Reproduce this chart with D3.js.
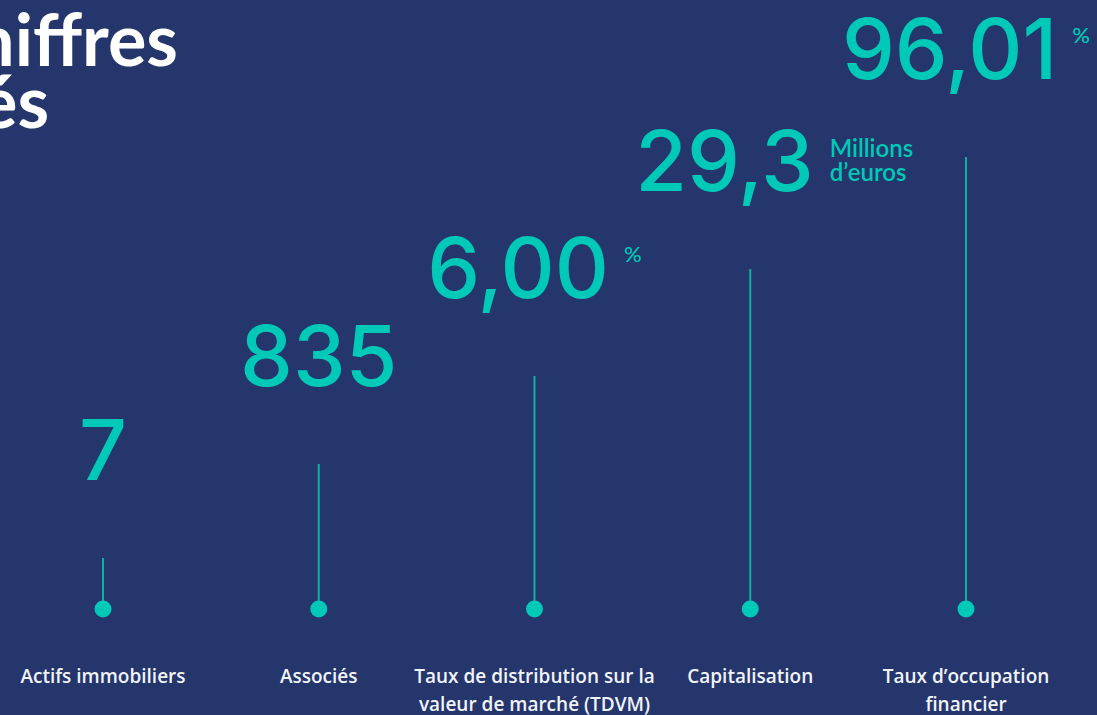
<!DOCTYPE html>
<html>
<head>
<meta charset="utf-8">
<script src="https://cdn.jsdelivr.net/npm/d3@7"></script>
<style>
  html, body { margin: 0; padding: 0; background: #24366c; overflow: hidden; }
</style>
</head>
<body>
<div id="chart"></div>
<script>
// Chart data
var categories = ["Actifs immobiliers", "Associés", "Taux de distribution sur la valeur de marché (TDVM)", "Capitalisation", "Taux d’occupation financier"];
var labelLines = [["Actifs immobiliers"], ["Associés"], ["Taux de distribution sur la", "valeur de marché (TDVM)"], ["Capitalisation"], ["Taux d’occupation", "financier"]];
var valueLabels = ["7", "835", "6,00", "29,3", "96,01"];
var unitLines = [[], [], ["%"], ["Millions", "d’euros"], ["%"]];
// relative height of each stem
var stemLevels = [0.51, 1.45, 2.33, 3.40, 4.52];

var svgWidth = 1097;
var svgHeight = 715;

var teal = "#00c9b7";
var stemColor = "#14ada2";

var svg = d3.select("#chart")
    .append("svg")
    .attr("width", svgWidth)
    .attr("height", svgHeight);

svg.append("rect")
    .attr("width", svgWidth)
    .attr("height", svgHeight)
    .attr("fill", "#24366c");

// Scales
var xScale = d3.scalePoint()
    .domain(categories)
    .range([103, 966]);

var yScale = d3.scaleLinear()
    .domain([0, 5])
    .range([609, 109]);

// Title (cropped on the left like the original)
var title1 = svg.append("text")
    .attr("x", 178)
    .attr("y", 66)
    .attr("text-anchor", "end")
    .attr("font-family", "Lato")
    .attr("font-weight", "bold")
    .attr("font-size", "72px")
    .attr("fill", "white")
    .text("Chiffres");

var titleStart = title1.node().getBBox().x;

svg.append("text")
    .attr("x", titleStart)
    .attr("y", 128)
    .attr("font-family", "Lato")
    .attr("font-weight", "bold")
    .attr("font-size", "72px")
    .attr("fill", "white")
    .text("clés");

// Stems
svg.selectAll(".stem")
    .data(categories)
    .enter()
    .append("line")
    .attr("class", "stem")
    .attr("x1", d => xScale(d))
    .attr("x2", d => xScale(d))
    .attr("y1", yScale(0))
    .attr("y2", (d, i) => yScale(stemLevels[i]))
    .attr("stroke", stemColor)
    .attr("stroke-width", 2);

// Dots
svg.selectAll(".dot")
    .data(categories)
    .enter()
    .append("circle")
    .attr("class", "dot")
    .attr("cx", d => xScale(d))
    .attr("cy", yScale(0))
    .attr("r", 8.5)
    .attr("fill", teal);

// Values + units, centred as a group above each stem
categories.forEach(function(cat, i) {
    var g = svg.append("g");
    var top = yScale(stemLevels[i]);

    var num = g.append("text")
        .attr("x", 0)
        .attr("y", 0)
        .attr("font-family", "Inter")
        .attr("font-weight", 500)
        .attr("font-size", "84px")
        .attr("fill", teal)
        .text(valueLabels[i]);

    var numBox = num.node().getBBox();
    var multi = unitLines[i].length > 1;

    unitLines[i].forEach(function(line, j) {
        g.append("text")
            .attr("x", numBox.width + (multi ? 16 : 15))
            .attr("y", (multi ? -34 : -36) + j * 24)
            .attr("font-family", "Lato")
            .attr("font-weight", multi ? 600 : 500)
            .attr("font-size", multi ? "24px" : "22px")
            .attr("fill", teal)
            .text(line);
    });

    var box = g.node().getBBox();
    var shift = multi ? 24 : 0;
    g.attr("transform", `translate(${xScale(cat) - box.width / 2 - box.x + shift}, ${top - 78})`);
});

// Category labels
categories.forEach(function(cat, i) {
    labelLines[i].forEach(function(line, j) {
        svg.append("text")
            .attr("x", xScale(cat))
            .attr("y", 683 + j * 28)
            .attr("text-anchor", "middle")
            .attr("font-family", "Open Sans")
            .attr("font-weight", 600)
            .attr("font-size", "19px")
            .attr("fill", "#f2f3f7")
            .text(line);
    });
});
</script>
</body>
</html>
